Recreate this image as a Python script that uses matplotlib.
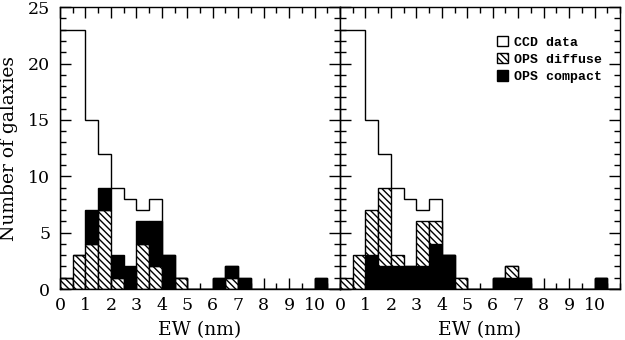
import numpy as np
import matplotlib
matplotlib.use('Agg')
import matplotlib.pyplot as plt
from matplotlib.patches import Patch
from matplotlib.ticker import MultipleLocator

# EW bins of 0.5 nm from 0 to 11 nm
bin_edges = np.arange(0, 11.01, 0.5)

ccd_data = [23, 23, 15, 12, 9, 8, 7, 8, 3, 1, 0, 0, 1, 2, 1, 0, 0, 0, 0, 0, 1, 0]
ops_diffuse = [1, 3, 4, 7, 1, 0, 4, 2, 0, 1, 0, 0, 0, 1, 0, 0, 0, 0, 0, 0, 0, 0]
ops_compact = [0, 0, 3, 2, 2, 2, 2, 4, 3, 0, 0, 0, 1, 1, 1, 0, 0, 0, 0, 0, 1, 0]

x_ticks = list(range(0, 11))
y_ticks = [0, 5, 10, 15, 20, 25]

plt.rcParams['font.family'] = 'DejaVu Serif'
plt.rcParams['hatch.linewidth'] = 1.0

fig = plt.figure(figsize=(6.25, 3.4), dpi=100)
ax_l = fig.add_axes([0.096, 0.15, 0.448, 0.829])
ax_r = fig.add_axes([0.544, 0.15, 0.448, 0.829])

left = bin_edges[:-1]
width = 0.5
hatch = '\\\\\\\\\\'


def draw_panel(ax, compact_on_top):
    ax.stairs(ccd_data, bin_edges, color='black', linewidth=1.0)
    diff = np.array(ops_diffuse)
    comp = np.array(ops_compact)
    if compact_on_top:
        ax.bar(left, diff, width=width, align='edge', facecolor='white',
               edgecolor='black', hatch=hatch, linewidth=1.0)
        ax.bar(left, comp, width=width, bottom=diff, align='edge',
               facecolor='black', edgecolor='black', linewidth=1.0)
    else:
        ax.bar(left, comp, width=width, align='edge', facecolor='black',
               edgecolor='black', linewidth=1.0)
        ax.bar(left, diff, width=width, bottom=comp, align='edge',
               facecolor='white', edgecolor='black', hatch=hatch, linewidth=1.0)

    ax.set_xlim(0, 11)
    ax.set_ylim(0, 25)
    ax.set_xticks(x_ticks)
    ax.set_yticks(y_ticks)
    ax.xaxis.set_minor_locator(MultipleLocator(0.5))
    ax.yaxis.set_minor_locator(MultipleLocator(1))
    ax.tick_params(which='both', direction='in', top=True, right=True,
                   width=1.0, labelsize=12.5)
    ax.tick_params(which='major', length=8)
    ax.tick_params(which='minor', length=4.3)
    ax.tick_params(axis='x', which='major', pad=5.5)
    ax.tick_params(axis='y', which='major', pad=7)
    for s in ax.spines.values():
        s.set_linewidth(1.0)
    ax.set_xlabel('EW (nm)', fontsize=13.5, labelpad=5)


draw_panel(ax_l, compact_on_top=True)
draw_panel(ax_r, compact_on_top=False)

ax_l.set_ylabel('Number of galaxies', fontsize=13.5, labelpad=7)
ax_r.tick_params(labelleft=False)

handles = [
    Patch(facecolor='white', edgecolor='black', label='CCD data'),
    Patch(facecolor='white', edgecolor='black', hatch=hatch, label='OPS diffuse'),
    Patch(facecolor='black', edgecolor='black', label='OPS compact'),
]
ax_r.legend(handles=handles, loc='upper right', bbox_to_anchor=(0.979, 0.94),
            frameon=False, handlelength=0.8, handleheight=0.8,
            handletextpad=0.5, labelspacing=0.35,
            prop={'family': 'Liberation Mono', 'weight': 'bold', 'size': 9.5})

fig.savefig('out.png', dpi=100)
